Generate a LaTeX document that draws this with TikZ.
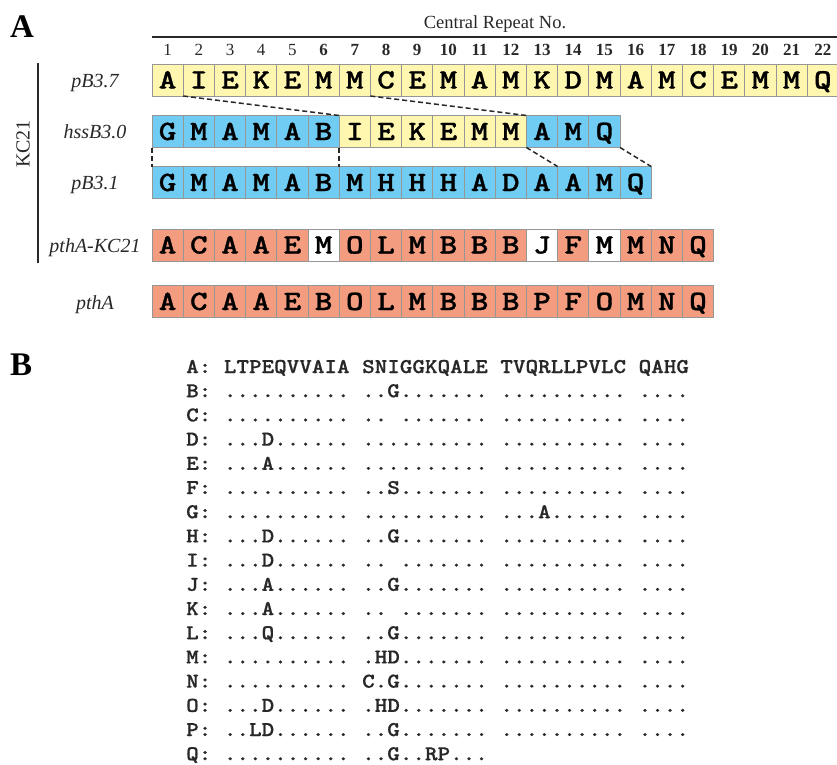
\documentclass[tikz,border=0pt]{standalone}
\usepackage{fontspec}
\setmainfont{Liberation Serif}
% slab-serif typewriter faces, slightly emboldened
\newfontfamily\seqtt{lmmonolt10-bold}[Extension=.otf, FakeBold=0.9]
\newfontfamily\alntt{lmmonolt10-bold}[Extension=.otf, FakeBold=0.7]

\definecolor{cY}{RGB}{255,246,176}
\definecolor{cB}{RGB}{112,204,242}
\definecolor{cS}{RGB}{243,156,128}
\definecolor{cW}{RGB}{255,255,255}
\definecolor{boxgray}{RGB}{150,150,150}
\definecolor{inkgray}{RGB}{40,40,40}

% widened typewriter letters
\newcommand\widett[1]{\scalebox{1.2}[1]{#1}}
\newcommand\widealn[1]{\scalebox{1.14}[1]{#1}}

% one row of repeat boxes: #1 row name, #2 vertical centre, #3 letter/colour list
\newcommand\seqrow[3]{%
  \foreach \ch/\col [count=\i] in {#3} {
    \node[res, fill=\col] (#1-\i) at ({152+(\i-0.5)*31.2}, #2) {\widett{\ch}};
  }%
}

\begin{document}
\begin{tikzpicture}[x=1pt, y=-1pt,
  res/.style={draw=boxgray, line width=0.9pt, minimum width=31.2pt,
    minimum height=32pt, inner sep=0pt, outer sep=0pt,
    text height=17pt, text depth=0pt,
    font=\seqtt\fontsize{28}{28}\selectfont},
  rowlab/.style={anchor=base, inner sep=0pt, text=inkgray,
    font=\itshape\fontsize{20}{20}\selectfont},
  num/.style={anchor=base, inner sep=0pt, text=inkgray,
    font=\fontsize{17}{17}\selectfont},
  panel/.style={anchor=base west, inner sep=0pt,
    font=\bfseries\fontsize{33}{33}\selectfont},
  aln/.style={anchor=base west, inner sep=0pt, text=inkgray,
    font=\alntt\fontsize{21}{24}\selectfont\frenchspacing},
  link/.style={draw=inkgray, line width=1.5pt, dash pattern=on 5pt off 3pt},
  rule/.style={draw=inkgray, line width=1.4pt}
]
\useasboundingbox (0,0) rectangle (837,764);

% panel letters
\node[panel] (pa) at (10,37) {A};
\node[panel] (pb) at (10,375) {B};

% header with repeat numbers
\node[anchor=base, inner sep=0pt, text=inkgray, font=\fontsize{18.5}{18.5}\selectfont]
  (hdr) at (495,28) {Central Repeat No.};
\coordinate (hl) at (152,37);
\coordinate (hr) at (837,37);
\draw[rule] (hl) -- (hr);
\foreach \i in {1,...,22} {
  \node[num] (n\i) at ({152+(\i-0.5)*31.2}, 55)
    {\ifnum\i>5 \textbf{\i}\else\i\fi};
}

% repeat rows
\seqrow{r1}{80}{A/cY,I/cY,E/cY,K/cY,E/cY,M/cY,M/cY,C/cY,E/cY,M/cY,A/cY,M/cY,K/cY,D/cY,M/cY,A/cY,M/cY,C/cY,E/cY,M/cY,M/cY,Q/cY}
\seqrow{r2}{131.5}{G/cB,M/cB,A/cB,M/cB,A/cB,B/cB,I/cY,E/cY,K/cY,E/cY,M/cY,M/cY,A/cB,M/cB,Q/cB}
\seqrow{r3}{182.5}{G/cB,M/cB,A/cB,M/cB,A/cB,B/cB,M/cB,H/cB,H/cB,H/cB,A/cB,D/cB,A/cB,A/cB,M/cB,Q/cB}
\seqrow{r4}{245}{A/cS,C/cS,A/cS,A/cS,E/cS,M/cW,O/cS,L/cS,M/cS,B/cS,B/cS,B/cS,J/cW,F/cS,M/cW,M/cS,N/cS,Q/cS}
\seqrow{r5}{301.5}{A/cS,C/cS,A/cS,A/cS,E/cS,B/cS,O/cS,L/cS,M/cS,B/cS,B/cS,B/cS,P/cS,F/cS,O/cS,M/cS,N/cS,Q/cS}

% row labels
\node[rowlab] (l1) at (95,87) {pB3.7};
\node[rowlab] (l2) at (95,138.5) {hssB3.0};
\node[rowlab] (l3) at (95,189.5) {pB3.1};
\node[rowlab] (l4) at (95,252) {pthA-KC21};
\node[rowlab] (l5) at (95,309) {pthA};

% KC21 bracket
\coordinate (kt) at (38,63);
\coordinate (kb) at (38,263);
\draw[rule] (kt) -- (kb);
\node[rotate=90, inner sep=0pt, text=inkgray, font=\fontsize{20}{20}\selectfont]
  (kc) at (23,144) {KC21};

% recombination links
\draw[link] (r1-2.south west) -- (r2-7.north west);
\draw[link] (r1-8.south west) -- (r2-13.north west);
\draw[link] (r2-1.south west) -- (r3-1.north west);
\draw[link] (r2-7.south west) -- (r3-7.north west);
\draw[link] (r2-13.south west) -- (r3-14.north west);
\draw[link] (r2-15.south east) -- (r3-16.north east);

% repeat-type alignment
\foreach \lab/\txt [count=\k from 0] in {
  A/{LTPEQVVAIA SNIGGKQALE TVQRLLPVLC QAHG},
  B/{.......... ..G....... .......... ....},
  C/{.......... .. ....... .......... ....},
  D/{...D...... .......... .......... ....},
  E/{...A...... .......... .......... ....},
  F/{.......... ..S....... .......... ....},
  G/{.......... .......... ...A...... ....},
  H/{...D...... ..G....... .......... ....},
  I/{...D...... .. ....... .......... ....},
  J/{...A...... ..G....... .......... ....},
  K/{...A...... .. ....... .......... ....},
  L/{...Q...... ..G....... .......... ....},
  M/{.......... .HD....... .......... ....},
  N/{.......... C.G....... .......... ....},
  O/{...D...... .HD....... .......... ....},
  P/{..LD...... ..G....... .......... ....},
  Q/{.......... ..G..RP...}} {
  \node[aln] (b\lab) at (186, {373+\k*24.2}) {\widealn{\lab: \txt}};
}
\end{tikzpicture}
\end{document}
